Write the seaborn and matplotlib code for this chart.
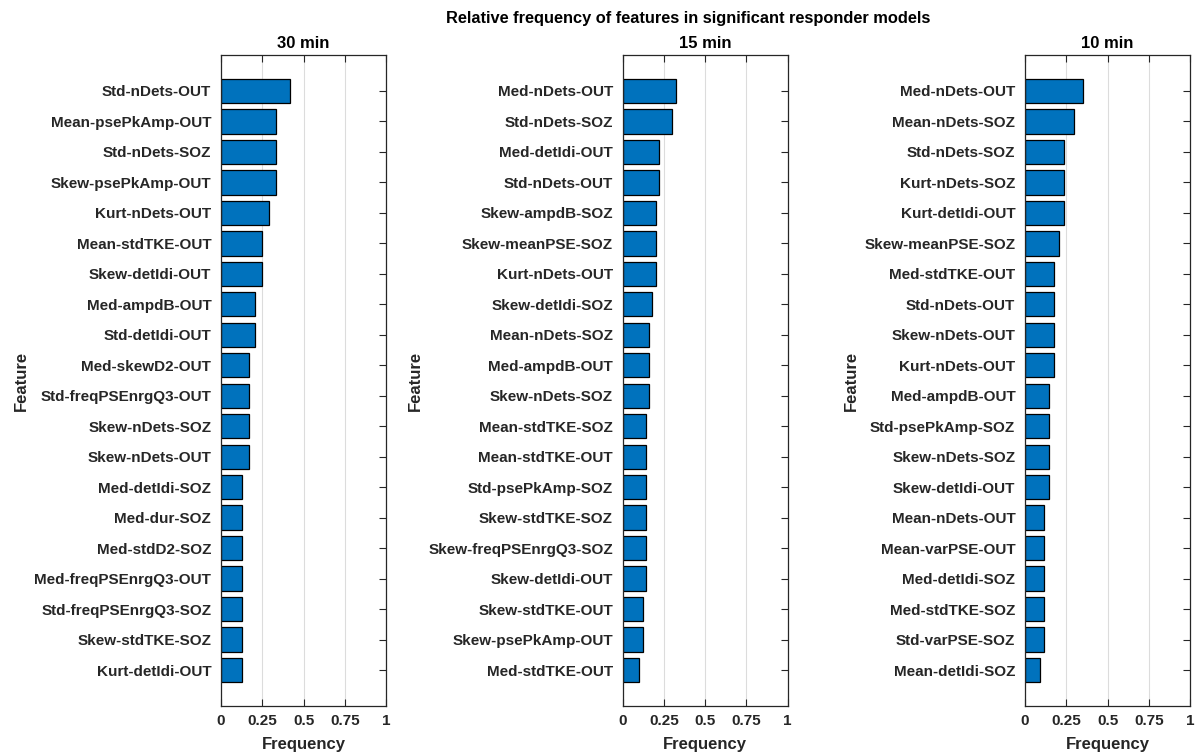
import matplotlib
matplotlib.use("Agg")
import matplotlib.pyplot as plt
import seaborn as sns
import pandas as pd

# Feature rankings per epoch length
features_30 = [
    "Std-nDets-OUT", "Mean-psePkAmp-OUT", "Std-nDets-SOZ", "Skew-psePkAmp-OUT",
    "Kurt-nDets-OUT", "Mean-stdTKE-OUT", "Skew-detIdi-OUT", "Med-ampdB-OUT",
    "Std-detIdi-OUT", "Med-skewD2-OUT", "Std-freqPSEnrgQ3-OUT", "Skew-nDets-SOZ",
    "Skew-nDets-OUT", "Med-detIdi-SOZ", "Med-dur-SOZ", "Med-stdD2-SOZ",
    "Med-freqPSEnrgQ3-OUT", "Std-freqPSEnrgQ3-SOZ", "Skew-stdTKE-SOZ", "Kurt-detIdi-OUT",
]
freq_30 = [0.417, 0.333, 0.333, 0.333, 0.292, 0.25, 0.25, 0.208, 0.208, 0.167,
           0.167, 0.167, 0.167, 0.125, 0.125, 0.125, 0.125, 0.125, 0.125, 0.125]

features_15 = [
    "Med-nDets-OUT", "Std-nDets-SOZ", "Med-detIdi-OUT", "Std-nDets-OUT",
    "Skew-ampdB-SOZ", "Skew-meanPSE-SOZ", "Kurt-nDets-OUT", "Skew-detIdi-SOZ",
    "Mean-nDets-SOZ", "Med-ampdB-OUT", "Skew-nDets-SOZ", "Mean-stdTKE-SOZ",
    "Mean-stdTKE-OUT", "Std-psePkAmp-SOZ", "Skew-stdTKE-SOZ", "Skew-freqPSEnrgQ3-SOZ",
    "Skew-detIdi-OUT", "Skew-stdTKE-OUT", "Skew-psePkAmp-OUT", "Med-stdTKE-OUT",
]
freq_15 = [0.32, 0.30, 0.22, 0.22, 0.20, 0.20, 0.20, 0.18, 0.16, 0.16,
           0.16, 0.14, 0.14, 0.14, 0.14, 0.14, 0.14, 0.12, 0.12, 0.10]

features_10 = [
    "Med-nDets-OUT", "Mean-nDets-SOZ", "Std-nDets-SOZ", "Kurt-nDets-SOZ",
    "Kurt-detIdi-OUT", "Skew-meanPSE-SOZ", "Med-stdTKE-OUT", "Std-nDets-OUT",
    "Skew-nDets-OUT", "Kurt-nDets-OUT", "Med-ampdB-OUT", "Std-psePkAmp-SOZ",
    "Skew-nDets-SOZ", "Skew-detIdi-OUT", "Mean-nDets-OUT", "Mean-varPSE-OUT",
    "Med-detIdi-SOZ", "Med-stdTKE-SOZ", "Std-varPSE-SOZ", "Mean-detIdi-SOZ",
]
freq_10 = [0.353, 0.294, 0.235, 0.235, 0.235, 0.206, 0.176, 0.176, 0.176, 0.176,
           0.147, 0.147, 0.147, 0.147, 0.118, 0.118, 0.118, 0.118, 0.118, 0.088]

panel_titles = ["30 min", "15 min", "10 min"]
x_ticks = [0, 0.25, 0.5, 0.75, 1]
x_tick_labels = ["0", "0.25", "0.5", "0.75", "1"]

sns.set_style("white")
plt.rcParams["font.family"] = ["Liberation Sans", "DejaVu Sans"]
plt.rcParams["font.weight"] = "bold"

TEXT = "#262626"
BAR = "#0072BD"
W, H = 1196, 754

fig = plt.figure(figsize=(W / 100, H / 100), dpi=100)

# axes boxes in pixel units: left, right
boxes = [(221, 386), (622.7, 787.7), (1025, 1190)]
top_px, bot_px = 55, 706

panels = [(features_30, freq_30), (features_15, freq_15), (features_10, freq_10)]

for (lft, rgt), (feats, vals), ttl in zip(boxes, panels, panel_titles):
    ax = fig.add_axes([lft / W, 1 - bot_px / H, (rgt - lft) / W, (bot_px - top_px) / H])
    df = pd.DataFrame({"Feature": feats, "Frequency": vals})
    sns.barplot(data=df, x="Frequency", y="Feature", orient="h", ax=ax,
                color=BAR, saturation=1, width=0.8,
                edgecolor="black", linewidth=0.9, zorder=3)
    ax.set_xlim(0, 1)
    ax.set_ylim(len(feats) - 1 + 1.18, -1.18)
    ax.set_xticks(x_ticks)
    ax.set_xticklabels(x_tick_labels)
    ax.xaxis.grid(True, color="#dcdcdc", linewidth=0.8, zorder=0)
    ax.yaxis.grid(False)
    ax.set_axisbelow(True)
    for s in ax.spines.values():
        s.set_visible(True)
        s.set_color(TEXT)
        s.set_linewidth(0.9)
        s.set_zorder(5)
    ax.tick_params(axis="both", direction="in", length=5, width=0.8, color=TEXT,
                   labelcolor=TEXT, labelsize=11, top=True, right=True,
                   left=True, bottom=True)
    ax.tick_params(axis="y", pad=7)
    ax.tick_params(axis="x", pad=6)
    for lab in ax.get_xticklabels() + ax.get_yticklabels():
        lab.set_fontweight("bold")
    ax.set_xlabel("Frequency", fontsize=12, fontweight="bold", color=TEXT, labelpad=6)
    ax.set_ylabel("Feature", fontsize=12, fontweight="bold", color=TEXT, labelpad=4)
    ax.set_title(ttl, fontsize=12, fontweight="bold", color="black", pad=5)

fig.text(688 / W, 1 - 19 / H, "Relative frequency of features in significant responder models",
         ha="center", va="center", fontsize=11.75, fontweight="bold", color="black")

fig.savefig("out.png", dpi=100, facecolor="white")
